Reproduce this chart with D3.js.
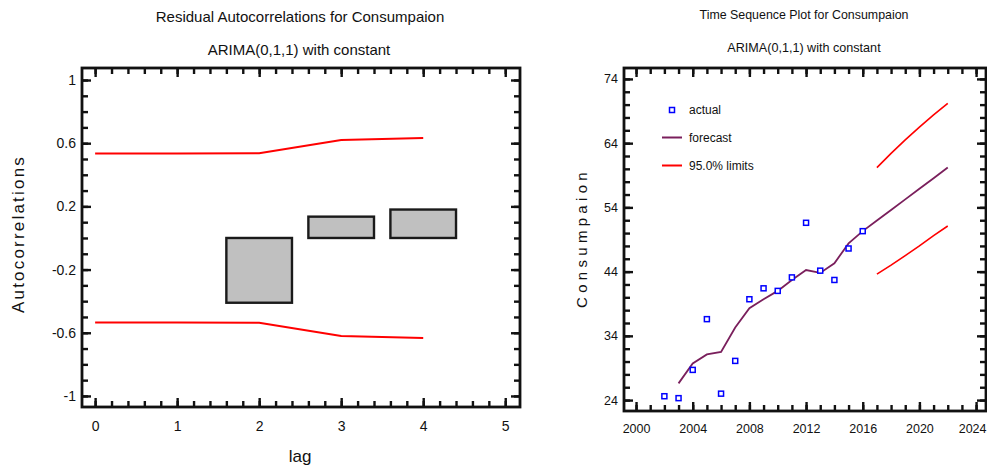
<!DOCTYPE html>
<html>
<head>
<meta charset="utf-8">
<script src="https://cdn.jsdelivr.net/npm/d3@7"></script>
<style>
  body { margin: 0; background: #fff; }
  text { font-family: "Liberation Sans", Arial, sans-serif; fill: #111; }
  .domain { display: none; }
</style>
</head>
<body>
<svg width="987" height="470"></svg>
<script>
// --- residual autocorrelations ---
var lags = [1, 2, 3, 4];
var acf = [0.0, -0.41, 0.135, 0.18];
var limitLags = [0, 1, 2, 3, 4];
var upperLimit = [0.535, 0.535, 0.536, 0.62, 0.633];
var lowerLimit = [-0.535, -0.535, -0.536, -0.62, -0.633];
var lagTicks = [0, 1, 2, 3, 4, 5];
var acfTicks = [-1, -0.6, -0.2, 0.2, 0.6, 1];

// --- time sequence plot ---
var actualYears = [2002, 2003, 2004, 2005, 2006, 2007, 2008, 2009, 2010, 2011, 2012, 2013, 2014, 2015, 2016];
var actualValues = [24.6, 24.3, 28.7, 36.6, 25.0, 30.1, 39.7, 41.4, 41.0, 43.1, 51.6, 44.15, 42.7, 47.6, 50.3];
var forecastYears = [2003, 2004, 2005, 2006, 2007, 2008, 2009, 2010, 2011, 2012, 2013, 2014, 2015, 2016,
                     2017, 2018, 2019, 2020, 2021, 2022];
var forecastValues = [26.6, 29.7, 31.1, 31.5, 35.3, 38.3, 39.7, 41.0, 42.7, 44.25, 43.8, 45.3, 48.4, 50.3,
                      51.95, 53.6, 55.25, 56.9, 58.55, 60.2];
var limitYears = [2017, 2018, 2019, 2020, 2021, 2022];
var upper95 = [60.2, 62.4, 64.5, 66.5, 68.4, 70.2];
var lower95 = [43.6, 45.0, 46.5, 48.0, 49.6, 51.1];
var yearTicks = [2000, 2004, 2008, 2012, 2016, 2020, 2024];
var consTicks = [24, 34, 44, 54, 64, 74];

var svg = d3.select("svg");
var plain = function(d) { return String(d); };

// box with inward ticks on all four sides, labels on bottom and left
function frame(g, x, y, o) {
    var x0 = x.range()[0], x1 = x.range()[1], y0 = y.range()[0], y1 = y.range()[1];
    function put(axis, tx, ty) {
        var a = g.append("g").attr("transform", "translate(" + tx + "," + ty + ")").call(axis);
        a.selectAll(".tick line").attr("stroke", "#111").attr("stroke-width", 2.4);
        return a;
    }
    // minor ticks
    put(d3.axisBottom(x).tickValues(o.xMinor).tickSize(-6).tickFormat(""), 0, y0);
    put(d3.axisTop(x).tickValues(o.xMinor).tickSize(-6).tickFormat(""), 0, y1);
    put(d3.axisLeft(y).tickValues(o.yMinor).tickSize(-6).tickFormat(""), x0, 0);
    put(d3.axisRight(y).tickValues(o.yMinor).tickSize(-6).tickFormat(""), x1, 0);
    // major ticks
    var bx = put(d3.axisBottom(x).tickValues(o.xMajor).tickSize(-9).tickPadding(o.xPad).tickFormat(plain), 0, y0);
    put(d3.axisTop(x).tickValues(o.xMajor).tickSize(-9).tickFormat(""), 0, y1);
    var ly = put(d3.axisLeft(y).tickValues(o.yMajor).tickSize(-9).tickPadding(o.yPad).tickFormat(plain), x0, 0);
    put(d3.axisRight(y).tickValues(o.yMajor).tickSize(-9).tickFormat(""), x1, 0);
    [bx, ly].forEach(function(a) {
        a.selectAll("text").style("font-size", o.fontSize).attr("fill", "#111");
    });
    g.append("rect").attr("x", x0).attr("y", y1).attr("width", x1 - x0).attr("height", y0 - y1)
        .attr("fill", "none").attr("stroke", "#111").attr("stroke-width", 2.8);
    return bx;
}

// ---------------- left chart ----------------
var L = svg.append("g");
var lx = d3.scaleLinear().domain([-0.16, 5.18]).range([82, 520]);
var ly = d3.scaleLinear().domain([-1.07, 1.076]).range([407, 68]);

L.append("text").attr("x", 300).attr("y", 22).attr("text-anchor", "middle")
    .style("font-size", "15px").text("Residual Autocorrelations for Consumpaion");
L.append("text").attr("x", 299).attr("y", 55).attr("text-anchor", "middle")
    .style("font-size", "15px").text("ARIMA(0,1,1) with constant");

L.selectAll("rect.bar").data(lags).enter().append("rect")
    .attr("class", "bar")
    .attr("x", function(d) { return lx(d - 0.4); })
    .attr("width", lx(0.8) - lx(0))
    .attr("y", function(d, i) { return ly(Math.max(0, acf[i])); })
    .attr("height", function(d, i) { return Math.abs(ly(acf[i]) - ly(0)); })
    .attr("fill", "#c0c0c0").attr("stroke", "#1a1a1a").attr("stroke-width", 2.4)
    .style("display", function(d, i) { return Math.abs(acf[i]) < 0.005 ? "none" : null; });

var limLine = d3.line().x(function(d) { return lx(d[0]); }).y(function(d) { return ly(d[1]); });
[upperLimit, lowerLimit].forEach(function(arr) {
    L.append("path").datum(d3.zip(limitLags, arr)).attr("d", limLine)
        .attr("fill", "none").attr("stroke", "#ff0000").attr("stroke-width", 2);
});

frame(L, lx, ly, {
    xMajor: lagTicks, xMinor: d3.range(0, 5.01, 0.2),
    yMajor: acfTicks, yMinor: d3.range(-1, 1.01, 0.1),
    xPad: 14, yPad: 6, fontSize: "14px"
});

L.append("text").attr("x", 300).attr("y", 462).attr("text-anchor", "middle")
    .style("font-size", "17px").text("lag");
L.append("text").attr("transform", "translate(24,234) rotate(-90)").attr("text-anchor", "middle")
    .style("font-size", "17px").style("letter-spacing", "2.2px").text("Autocorrelations");

// ---------------- right chart ----------------
var R = svg.append("g");
var rx = d3.scaleLinear().domain([1999.15, 2024.7]).range([624, 986]);
var ry = d3.scaleLinear().domain([22.3, 75.7]).range([411, 68]);

R.append("text").attr("x", 804).attr("y", 19).attr("text-anchor", "middle")
    .style("font-size", "12.4px").text("Time Sequence Plot for Consumpaion");
R.append("text").attr("x", 804).attr("y", 52).attr("text-anchor", "middle")
    .style("font-size", "12.6px").text("ARIMA(0,1,1) with constant");

var line = d3.line().x(function(d) { return rx(d[0]); }).y(function(d) { return ry(d[1]); });
R.append("path").datum(d3.zip(limitYears, upper95)).attr("d", line)
    .attr("fill", "none").attr("stroke", "#ff0000").attr("stroke-width", 1.6);
R.append("path").datum(d3.zip(limitYears, lower95)).attr("d", line)
    .attr("fill", "none").attr("stroke", "#ff0000").attr("stroke-width", 1.6);
R.append("path").datum(d3.zip(forecastYears, forecastValues)).attr("d", line)
    .attr("fill", "none").attr("stroke", "#7a1f5c").attr("stroke-width", 1.8);

R.selectAll("rect.pt").data(actualYears).enter().append("rect")
    .attr("class", "pt")
    .attr("x", function(d) { return rx(d) - 2.5; })
    .attr("y", function(d, i) { return ry(actualValues[i]) - 2.5; })
    .attr("width", 5).attr("height", 5)
    .attr("fill", "#fff").attr("stroke", "#0000ff").attr("stroke-width", 1.5);

var rBottom = frame(R, rx, ry, {
    xMajor: yearTicks, xMinor: d3.range(2000, 2025, 1),
    yMajor: consTicks, yMinor: d3.range(24, 75, 2),
    xPad: 13, yPad: 6, fontSize: "12.5px"
});
// the last year label sits against the right edge
rBottom.selectAll(".tick text").filter(function(d) { return d === 2024; })
    .attr("text-anchor", "end").attr("x", 986 - rx(2024));

R.append("text").attr("transform", "translate(587,238) rotate(-90)").attr("text-anchor", "middle")
    .style("font-size", "15px").style("letter-spacing", "4.3px").text("Consumpaion");

// legend
var leg = R.append("g");
leg.append("rect").attr("x", 669.5).attr("y", 107.5).attr("width", 5).attr("height", 5)
    .attr("fill", "#fff").attr("stroke", "#0000ff").attr("stroke-width", 1.5);
leg.append("line").attr("x1", 662).attr("x2", 682).attr("y1", 137.5).attr("y2", 137.5)
    .attr("stroke", "#7a1f5c").attr("stroke-width", 2);
leg.append("line").attr("x1", 662).attr("x2", 682).attr("y1", 165.5).attr("y2", 165.5)
    .attr("stroke", "#ff0000").attr("stroke-width", 2);
[["actual", 110], ["forecast", 138], ["95.0% limits", 166]].forEach(function(d) {
    leg.append("text").attr("x", 689).attr("y", d[1] + 4).style("font-size", "12px").text(d[0]);
});
</script>
</body>
</html>
